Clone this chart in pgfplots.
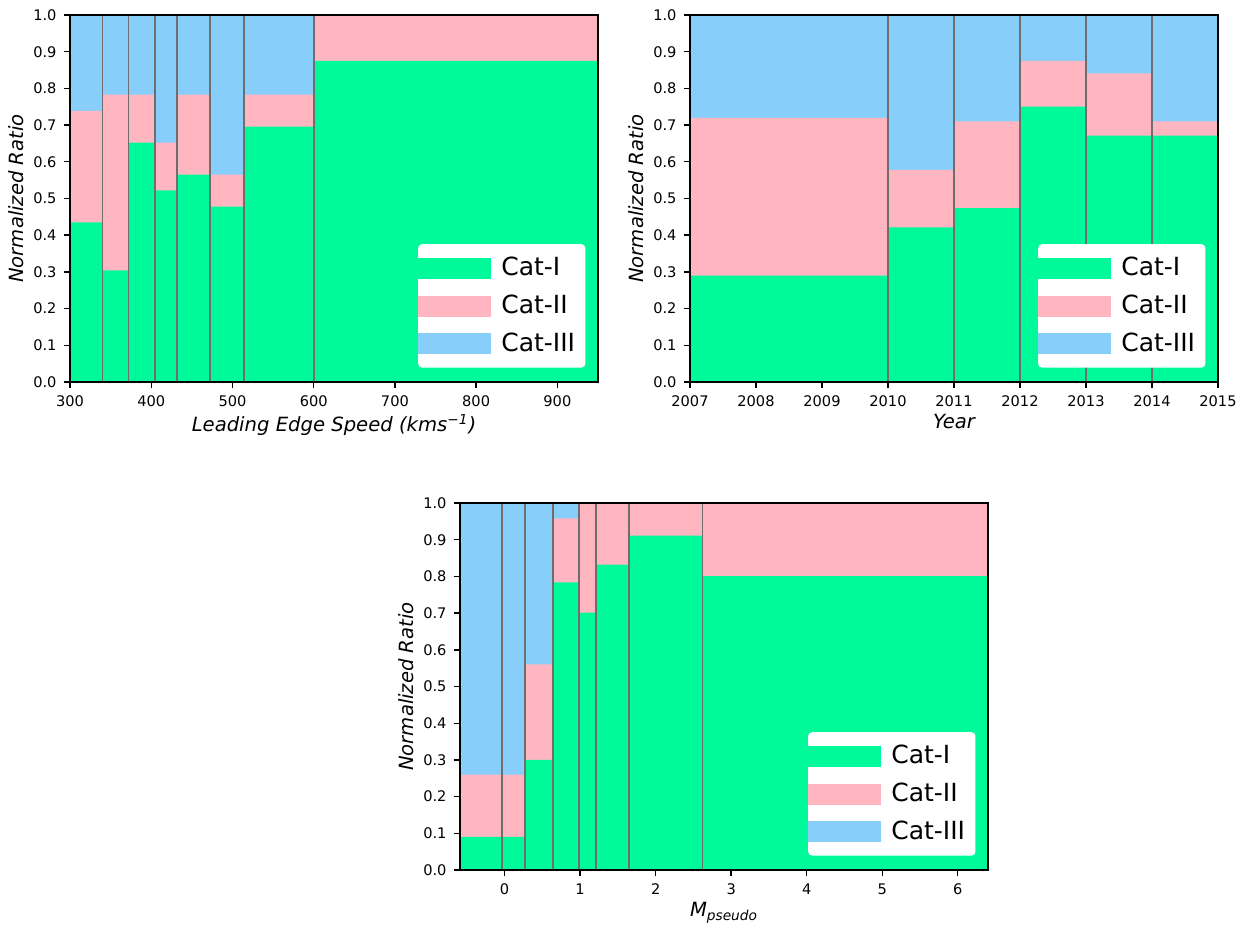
\documentclass[border=0pt]{standalone}
\usepackage{pgfplots}
\pgfplotsset{compat=1.18}
\usepackage{fontspec}
\setmainfont{DejaVu Sans}

\definecolor{catone}{HTML}{00FA9A}
\definecolor{cattwo}{HTML}{FFB6C1}
\definecolor{catthree}{HTML}{87CEFA}
\definecolor{edgegray}{HTML}{6E6E6E}

\pgfplotsset{
  ratioaxis/.style={
    scale only axis,
    width=264pt, height=183.5pt,
    ymin=0, ymax=1,
    ytick={0,0.1,...,1.0},
    axis on top,
    axis line style={line width=0.8pt},
    tick style={black, line width=0.7pt},
    tick align=outside,
    major tick length=3.2pt,
    xtick pos=bottom, ytick pos=left,
    tick label style={font=\fontsize{7.3}{8}\selectfont},
    /pgf/number format/assume math mode=true,
    yticklabel style={/pgf/number format/fixed, /pgf/number format/fixed zerofill, /pgf/number format/precision=1},
    label style={font=\fontsize{9.8}{11}\selectfont\itshape},
    ylabel={Normalized Ratio},
    ylabel style={yshift=-2pt},
    xlabel style={yshift=3pt},
    legend style={at={(0.977,0.038)}, anchor=south east, fill=white, draw=none,
      rounded corners=2pt, font=\fontsize{12.5}{14}\selectfont,
      row sep=4.2pt, inner xsep=0pt, inner ysep=4.5pt,
      nodes={inner xsep=5.2pt}},
    legend cell align=left,
    legend image code/.code={\fill[##1, sharp corners] (0pt,-5pt) rectangle (36pt,5pt);},
  },
  layer/.style={const plot mark left, draw=none, fill=#1, forget plot},
  edges/.style={ycomb, draw=edgegray, line width=0.9pt, mark=none, forget plot},
}

\begin{document}
\begin{tikzpicture}
\path[use as bounding box] (0,0) rectangle (624.5pt,-462.5pt);

% Leading edge speed bins
\begin{axis}[ratioaxis, at={(35pt,-7.5pt)}, anchor=north west,
  xmin=300, xmax=950, xtick={300,400,...,900},
  xlabel={Leading Edge Speed (kms\textsuperscript{−1})}]
\addplot[layer=catthree] coordinates {(300,1) (340,1) (372,1) (405,1) (432,1) (472,1) (514,1) (600,1) (950,1)} \closedcycle;
\addplot[layer=cattwo] coordinates {(300,0.739) (340,0.783) (372,0.783) (405,0.652) (432,0.783) (472,0.565) (514,0.783) (600,1) (950,1)} \closedcycle;
\addplot[layer=catone] coordinates {(300,0.435) (340,0.304) (372,0.652) (405,0.522) (432,0.565) (472,0.478) (514,0.696) (600,0.875) (950,0.875)} \closedcycle;
\addplot[edges] coordinates {(340,1) (372,1) (405,1) (432,1) (472,1) (514,1) (600,1)};
\addlegendimage{catone}\addlegendentry{Cat-I}
\addlegendimage{cattwo}\addlegendentry{Cat-II}
\addlegendimage{catthree}\addlegendentry{Cat-III}
\end{axis}

% Yearly bins
\begin{axis}[ratioaxis, at={(345pt,-7.5pt)}, anchor=north west,
  xmin=2007, xmax=2015, xtick={2007,2008,...,2015},
  xticklabel style={/pgf/number format/set thousands separator={}},
  xlabel={Year}]
\addplot[layer=catthree] coordinates {(2007,1) (2010,1) (2011,1) (2012,1) (2013,1) (2014,1) (2015,1)} \closedcycle;
\addplot[layer=cattwo] coordinates {(2007,0.720) (2010,0.578) (2011,0.710) (2012,0.875) (2013,0.841) (2014,0.710) (2015,0.710)} \closedcycle;
\addplot[layer=catone] coordinates {(2007,0.290) (2010,0.421) (2011,0.474) (2012,0.750) (2013,0.671) (2014,0.671) (2015,0.671)} \closedcycle;
\addplot[edges] coordinates {(2010,1) (2011,1) (2012,1) (2013,1) (2014,1)};
\addlegendimage{catone}\addlegendentry{Cat-I}
\addlegendimage{cattwo}\addlegendentry{Cat-II}
\addlegendimage{catthree}\addlegendentry{Cat-III}
\end{axis}

% Pseudo-magnitude bins
\begin{axis}[ratioaxis, at={(230pt,-251.5pt)}, anchor=north west,
  xmin=-0.59, xmax=6.40, xtick={0,1,...,6},
  xlabel={\textit{M}\textsubscript{\textit{pseudo}}}]
\addplot[layer=catthree] coordinates {(-0.59,1) (-0.03,1) (0.27,1) (0.64,1) (0.99,1) (1.21,1) (1.65,1) (2.62,1) (6.40,1)} \closedcycle;
\addplot[layer=cattwo] coordinates {(-0.59,0.260) (-0.03,0.260) (0.27,0.560) (0.64,0.958) (0.99,1) (1.21,1) (1.65,1) (2.62,1) (6.40,1)} \closedcycle;
\addplot[layer=catone] coordinates {(-0.59,0.090) (-0.03,0.090) (0.27,0.300) (0.64,0.784) (0.99,0.701) (1.21,0.832) (1.65,0.911) (2.62,0.801) (6.40,0.801)} \closedcycle;
\addplot[edges] coordinates {(-0.03,1) (0.27,1) (0.64,1) (0.99,1) (1.21,1) (1.65,1) (2.62,1)};
\addlegendimage{catone}\addlegendentry{Cat-I}
\addlegendimage{cattwo}\addlegendentry{Cat-II}
\addlegendimage{catthree}\addlegendentry{Cat-III}
\end{axis}
\end{tikzpicture}
\end{document}
